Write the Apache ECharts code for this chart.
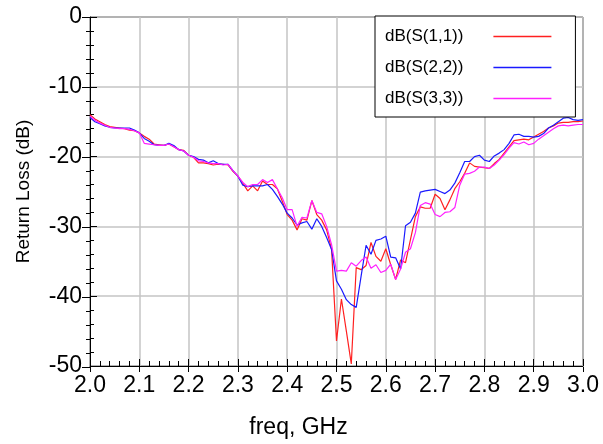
<!DOCTYPE html>
<html><head><meta charset="utf-8">
<script src="https://cdn.jsdelivr.net/npm/echarts@6/dist/echarts.min.js"></script>
<style>html,body{margin:0;padding:0;background:#fff}#c{width:603px;height:444px}</style>
</head><body><div id="c"></div>
<script>
const freq = [2.00,2.01,2.02,2.03,2.04,2.05,2.06,2.07,2.08,2.09,2.10,2.11,2.12,2.13,2.14,2.15,2.16,2.17,2.18,2.19,2.20,2.21,2.22,2.23,2.24,2.25,2.26,2.27,2.28,2.29,2.30,2.31,2.32,2.33,2.34,2.35,2.36,2.37,2.38,2.39,2.40,2.41,2.42,2.43,2.44,2.45,2.46,2.47,2.48,2.49,2.50,2.51,2.52,2.53,2.54,2.55,2.56,2.57,2.58,2.59,2.60,2.61,2.62,2.63,2.64,2.65,2.66,2.67,2.68,2.69,2.70,2.71,2.72,2.73,2.74,2.75,2.76,2.77,2.78,2.79,2.80,2.81,2.82,2.83,2.84,2.85,2.86,2.87,2.88,2.89,2.90,2.91,2.92,2.93,2.94,2.95,2.96,2.97,2.98,2.99,3.00];
const s11 = [-14.0,-14.6,-15.0,-15.4,-15.7,-15.8,-15.9,-16.0,-16.2,-16.3,-16.6,-17.1,-17.5,-18.2,-18.3,-18.4,-18.2,-18.6,-19.0,-19.1,-19.8,-20.1,-20.9,-20.9,-21.0,-21.2,-21.1,-21.1,-21.2,-22.1,-22.8,-23.8,-24.9,-24.2,-24.9,-23.5,-24.0,-24.0,-24.6,-26.4,-28.3,-29.1,-30.5,-28.9,-29.1,-26.3,-28.3,-29.1,-30.5,-33.3,-46.4,-40.4,-45.0,-49.7,-35.9,-36.2,-35.6,-32.3,-34.3,-35.0,-33.2,-35.5,-37.6,-34.8,-35.2,-31.9,-28.6,-27.2,-27.4,-27.4,-25.4,-26.0,-27.6,-26.2,-24.6,-23.6,-22.4,-20.9,-21.4,-21.5,-21.6,-21.7,-21.0,-20.4,-19.5,-18.6,-17.7,-17.6,-17.5,-17.6,-17.2,-16.8,-16.4,-15.9,-15.6,-15.2,-15.1,-15.1,-15.0,-15.0,-14.9];
const s22 = [-14.4,-15.0,-15.3,-15.6,-15.8,-15.9,-15.9,-15.9,-15.9,-16.2,-16.6,-17.4,-17.8,-18.3,-18.4,-18.4,-18.1,-18.4,-19.0,-19.2,-19.8,-20.0,-20.4,-20.5,-20.9,-20.6,-21.0,-21.1,-21.1,-22.0,-22.8,-24.1,-24.3,-24.2,-24.2,-24.2,-24.0,-24.7,-25.7,-26.8,-28.1,-28.8,-29.8,-29.5,-29.3,-30.4,-28.9,-30.0,-31.6,-33.3,-37.8,-39.0,-40.5,-41.2,-41.6,-37.1,-32.7,-34.0,-32.0,-31.8,-31.4,-34.4,-34.5,-36.1,-29.9,-29.4,-28.1,-25.1,-24.9,-24.8,-24.7,-25.0,-25.3,-24.8,-23.8,-22.3,-20.7,-20.7,-20.0,-19.8,-20.5,-20.7,-19.9,-19.5,-19.0,-18.1,-16.9,-16.8,-17.1,-17.1,-17.2,-17.1,-16.7,-15.9,-15.5,-15.0,-14.5,-14.4,-14.7,-14.8,-14.7];
const s33 = [-14.2,-14.8,-15.2,-15.5,-15.8,-15.9,-16.0,-16.0,-16.1,-16.3,-16.6,-18.1,-18.2,-18.3,-18.4,-18.4,-18.2,-18.6,-19.0,-19.2,-19.8,-20.1,-20.6,-20.7,-20.9,-21.0,-21.0,-21.2,-21.1,-22.0,-22.8,-23.7,-24.3,-24.0,-24.0,-23.3,-23.7,-23.3,-24.6,-25.9,-27.6,-27.6,-30.0,-28.7,-28.8,-26.3,-28.0,-28.2,-30.0,-32.6,-36.4,-36.3,-36.4,-35.2,-35.7,-34.9,-34.4,-36.0,-35.5,-36.6,-36.3,-35.4,-37.6,-36.1,-33.7,-33.2,-30.9,-27.0,-26.6,-26.8,-28.3,-28.6,-28.0,-27.9,-27.3,-24.1,-22.5,-22.4,-22.1,-21.5,-21.5,-21.7,-21.2,-20.5,-19.7,-18.8,-18.0,-18.2,-17.9,-18.3,-18.1,-17.5,-17.0,-16.5,-16.0,-15.6,-15.5,-15.6,-15.5,-15.4,-15.4];
const seriesNames = ['dB(S(1,1))','dB(S(2,2))','dB(S(3,3))'];
const seriesColors = ['#ff2020','#1a1aff','#ff20ff'];
const xTitle = 'freq, GHz';
const yTitle = 'Return Loss (dB)';

const FONT = '"Liberation Sans", Arial, Helvetica, sans-serif';
const chart = echarts.init(document.getElementById('c'), null, {renderer:'canvas'});
const pairs = a => freq.map((f,i)=>[f,a[i]]);
const allData = [s11, s22, s33];
const gridPos = {left:90, right:20, top:17, bottom:77};
const xBase = {type:'value', min:2.0, max:3.0, interval:0.1};
const yBase = {type:'value', min:-50, max:0, interval:10};
chart.setOption({
  animation:false,
  backgroundColor:'#fff',
  grid:[
    Object.assign({show:true, borderColor:'#000', borderWidth:1, backgroundColor:'transparent'}, gridPos),
    Object.assign({show:false}, gridPos)
  ],
  xAxis:[
    Object.assign({}, xBase, {
      gridIndex:0, position:'bottom',
      name:xTitle, nameLocation:'middle', nameGap:50,
      nameTextStyle:{fontFamily:FONT, fontSize:23, color:'#000', padding:[0,76,0,0]},
      axisLine:{onZero:false, lineStyle:{color:'#000', width:1}},
      axisTick:{inside:true, length:7, lineStyle:{color:'#000'}},
      minorTick:{show:true, splitNumber:5, length:5, lineStyle:{color:'#000'}},
      axisLabel:{fontFamily:FONT, fontSize:23, color:'#000', margin:8, formatter:v=>v.toFixed(1)},
      splitLine:{show:true, lineStyle:{color:'#c4c4c4', width:1.5}}
    }),
    Object.assign({}, xBase, {
      gridIndex:1, position:'bottom',
      axisLine:{show:false, onZero:false}, axisLabel:{show:false}, splitLine:{show:false},
      axisTick:{inside:false, length:5, lineStyle:{color:'#000'}}
    })
  ],
  yAxis:[
    Object.assign({}, yBase, {
      gridIndex:0, position:'left',
      name:yTitle, nameLocation:'middle', nameGap:57, nameRotate:90,
      nameTextStyle:{fontFamily:FONT, fontSize:19, color:'#000'},
      axisLine:{onZero:false, lineStyle:{color:'#000', width:1}},
      axisTick:{inside:true, length:7, lineStyle:{color:'#000'}},
      minorTick:{show:true, splitNumber:5, length:4, lineStyle:{color:'#000'}},
      axisLabel:{fontFamily:FONT, fontSize:23, color:'#000', margin:8},
      splitLine:{show:true, lineStyle:{color:'#c4c4c4', width:1.5}}
    }),
    Object.assign({}, yBase, {
      gridIndex:1, position:'left',
      axisLine:{show:false, onZero:false}, axisLabel:{show:false}, splitLine:{show:false},
      axisTick:{inside:false, length:8, lineStyle:{color:'#000'}},
      minorTick:{show:true, splitNumber:5, length:4, lineStyle:{color:'#000'}}
    })
  ],
  legend:{
    left:375, top:16, orient:'vertical', align:'right',
    padding:[12,24,10,10], itemGap:14, itemWidth:58, itemHeight:1.3,
    borderColor:'#000', borderWidth:1, backgroundColor:'#fff',
    formatter: n => '{t|' + n + '}',
    textStyle:{fontFamily:FONT, fontSize:17, color:'#000', rich:{t:{padding:[0,25,0,0], height:20, fontSize:17, fontFamily:FONT}}},
    data:seriesNames.map((n,i)=>({name:n, icon:'rect', itemStyle:{color:seriesColors[i]}}))
  },
  series: allData.map((d,i)=>({
    name:seriesNames[i], type:'line', data:pairs(d), symbol:'none',
    xAxisIndex:0, yAxisIndex:0,
    color:seriesColors[i], lineStyle:{width:1.2, color:seriesColors[i]},
    itemStyle:{color:seriesColors[i]}
  }))
});
</script></body></html>
